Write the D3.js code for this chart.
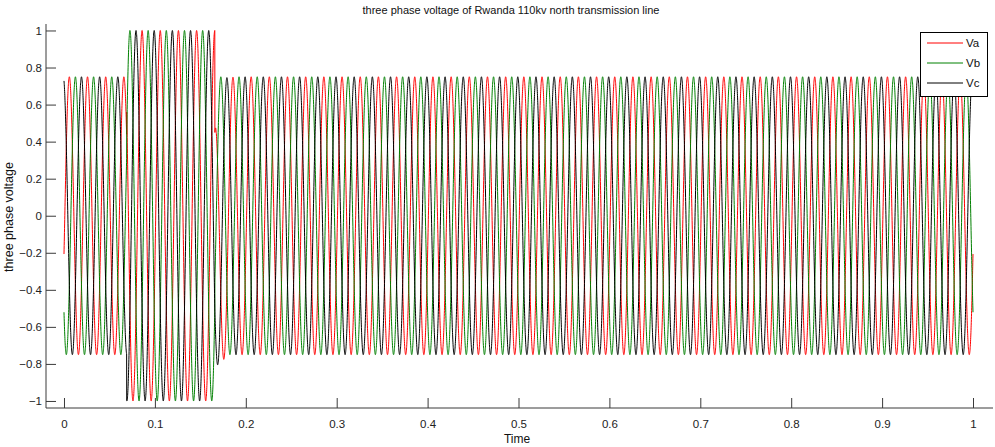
<!DOCTYPE html>
<html><head><meta charset="utf-8">
<script src="https://cdn.jsdelivr.net/npm/d3@7"></script>
<style>
html,body{margin:0;padding:0;background:#fff;}
svg{display:block;font-family:"Liberation Sans",Arial,sans-serif;}
</style></head>
<body>
<svg id="chart" width="995" height="447"></svg>
<script>
// ---- data ----
const seriesNames = ["Va", "Vb", "Vc"];
const seriesColors = ["#ff0000", "#008000", "#000000"];
const freqHz = 50;                       // 0.02 s period
const phaseDeg = [-16, -136, 104];       // phase at t = 0
const segStart = [0, 0.069, 0.166];      // pre-fault, fault, post-fault
const segAmp = [0.75, 1.0, 0.75];        // peak amplitude in each segment
const clearOffset = [-0.30, 0.0, -0.12]; // transient offset right after clearing
const clearTau = 0.004;
const tEnd = 1.0;
const xTicks = [0, 0.1, 0.2, 0.3, 0.4, 0.5, 0.6, 0.7, 0.8, 0.9, 1];
const yTicks = [-1, -0.8, -0.6, -0.4, -0.2, 0, 0.2, 0.4, 0.6, 0.8, 1];
const titleText = "three phase voltage of Rwanda 110kv north transmission line";
const xLabel = "Time";
const yLabel = "three phase voltage";

// ---- build samples ----
const dt = 0.0001;
function amp(t){ let a = segAmp[0]; for (let i=0;i<segStart.length;i++) if (t >= segStart[i]) a = segAmp[i]; return a; }
const series = seriesNames.map((name, k) => {
  const pts = [];
  const n = Math.round(tEnd/dt);
  for (let i=0;i<=n;i++){
    const t = i*dt;
    let v = amp(t) * Math.sin(2*Math.PI*freqHz*t + phaseDeg[k]*Math.PI/180);
    if (t >= segStart[2]) v += clearOffset[k]*Math.exp(-(t-segStart[2])/clearTau);
    pts.push([t, v]);
  }
  return {name, color: seriesColors[k], pts};
});

// ---- layout ----
const svg = d3.select("#chart");
const L = 46, R = 993, T = 24, B = 408;
const x = d3.scaleLinear().domain([-0.0198, 1.022]).range([L, R]);
const y = d3.scaleLinear().domain([-1.038, 1.035]).range([B, T]);

const line = d3.line().x(d => x(d[0])).y(d => y(d[1]));
const g = svg.append("g");
series.forEach(s => {
  g.append("path").attr("d", line(s.pts)).attr("fill","none")
   .attr("stroke", s.color).attr("stroke-width", 1);
});

// axes
const axisColor = "#3a3a3a";
const fontFam = '"Liberation Sans",Arial,sans-serif';
const xAxis = d3.axisBottom(x).tickValues(xTicks).tickFormat(d3.format("~g")).tickSizeInner(-10).tickSizeOuter(0).tickPadding(12);
const gx = svg.append("g").attr("transform", `translate(0,${B})`).call(xAxis);
gx.select(".domain").attr("stroke", axisColor).attr("d", `M${L},0H${R}`);
gx.selectAll(".tick line").attr("stroke", axisColor);
gx.selectAll(".tick text").attr("fill","#222").attr("font-size", 11.5).attr("font-family", fontFam);

const yAxis = d3.axisLeft(y).tickValues(yTicks).tickFormat(d3.format("~g")).tickSizeInner(-10).tickSizeOuter(0).tickPadding(4);
const gy = svg.append("g").attr("transform", `translate(${L},0)`).call(yAxis);
gy.select(".domain").attr("stroke", axisColor).attr("d", `M0,${T}V${B}`);
gy.selectAll(".tick line").attr("stroke", axisColor);
gy.selectAll(".tick text").attr("fill","#222").attr("font-size", 11.5).attr("font-family", fontFam);

// title & labels
svg.append("text").attr("x", 511).attr("y", 14).attr("text-anchor","middle")
  .attr("font-size", 11).attr("fill","#111").text(titleText);
svg.append("text").attr("x", 517).attr("y", 443).attr("text-anchor","middle")
  .attr("font-size", 12).attr("fill","#111").text(xLabel);
svg.append("text").attr("transform", "translate(13,217) rotate(-90)").attr("text-anchor","middle")
  .attr("font-size", 12.5).attr("fill","#111").text(yLabel);

// legend
const lg = svg.append("g");
lg.append("rect").attr("x", 920.5).attr("y", 32.5).attr("width", 67).attr("height", 64)
  .attr("fill","#fff").attr("stroke","#000").attr("stroke-width",1);
seriesNames.forEach((n,i) => {
  const yy = 43 + i*20;
  lg.append("line").attr("x1", 927).attr("x2", 963).attr("y1", yy).attr("y2", yy)
    .attr("stroke", seriesColors[i]).attr("stroke-width", 1);
  lg.append("text").attr("x", 966).attr("y", yy+4).attr("font-size", 11.5).attr("fill","#111").text(n);
});
</script>
</body></html>
